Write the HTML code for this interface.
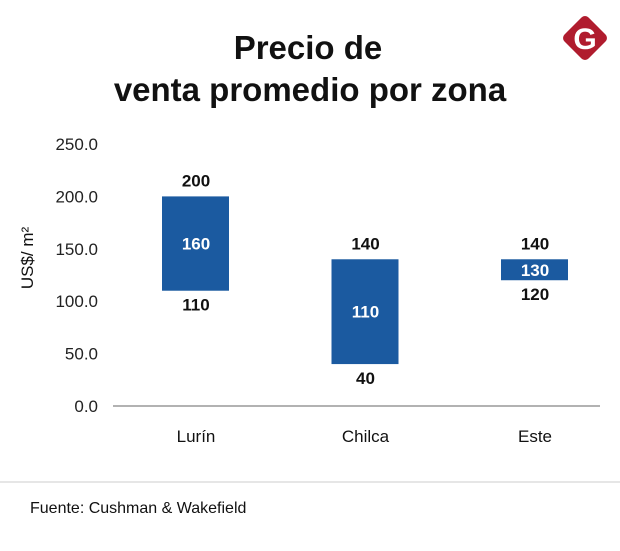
<!DOCTYPE html>
<html><head><meta charset="utf-8"><style>
body{margin:0;background:#fff;width:620px;height:546px;overflow:hidden;font-family:"Liberation Sans",sans-serif}
</style></head><body>
<svg width="620" height="546" xmlns="http://www.w3.org/2000/svg" font-family="Liberation Sans, sans-serif">
<text x="308" y="59" text-anchor="middle" font-size="33" font-weight="bold" fill="#111">Precio de</text>
<text x="310" y="101" text-anchor="middle" font-size="33" font-weight="bold" fill="#111">venta promedio por zona</text>
<g>
<rect x="568" y="21" width="34" height="34" rx="5" fill="#b01c2e" transform="rotate(45 585 38)"/>
<text x="585" y="49" text-anchor="middle" font-size="30" font-weight="bold" fill="#fff">G</text>
</g>
<text transform="translate(33 258) rotate(-90)" text-anchor="middle" font-size="17" fill="#111">US$/ m²</text>
<g id="yticks"></g>
<line x1="113" y1="406" x2="600" y2="406" stroke="#999" stroke-width="1.5"/>
<g id="bars"></g>
<line x1="0" y1="482" x2="620" y2="482" stroke="#ccc" stroke-width="1"/>
<text x="30" y="513" font-size="16" fill="#111">Fuente: Cushman &amp; Wakefield</text>
</svg>
<script>
const categories=["Lurín","Chilca","Este"];
const minValues=[110,40,120];
const maxValues=[200,140,140];
const avgValues=[160,110,130];
const yTicks=[0,50,100,150,200,250];
const ns="http://www.w3.org/2000/svg";
function y(v){return 406-v*(262/250);}
function x(i){return 196+i*169.5;}
function mk(tag,attrs,parent,txt){const e=document.createElementNS(ns,tag);for(const k in attrs)e.setAttribute(k,attrs[k]);if(txt!==undefined)e.textContent=txt;parent.appendChild(e);return e;}
const yt=document.getElementById('yticks');
yTicks.forEach(v=>{const t=mk('text',{x:98,y:y(v)+6,'text-anchor':'end','font-size':17,fill:'#222'},yt,v.toFixed(1));

});
const bg=document.getElementById('bars');
categories.forEach((c,i)=>{
const cx=x(i);
const r=mk('rect',{x:cx-34,y:y(maxValues[i]),width:67,height:y(minValues[i])-y(maxValues[i]),fill:'#1b5aa0'},bg);


const t1=mk('text',{x:cx,y:y(maxValues[i])-10,'text-anchor':'middle','font-size':17,'font-weight':'bold',fill:'#111'},bg,maxValues[i]);


const t2=mk('text',{x:cx,y:y(minValues[i])+20,'text-anchor':'middle','font-size':17,'font-weight':'bold',fill:'#111'},bg,minValues[i]);


const mid=(y(minValues[i])+y(maxValues[i]))/2;
const t3=mk('text',{x:cx,y:mid+6,'text-anchor':'middle','font-size':17,'font-weight':'bold',fill:'#fff'},bg,avgValues[i]);


const t4=mk('text',{x:cx,y:442,'text-anchor':'middle','font-size':17,fill:'#111'},bg,c);


});
</script>
</body></html>
